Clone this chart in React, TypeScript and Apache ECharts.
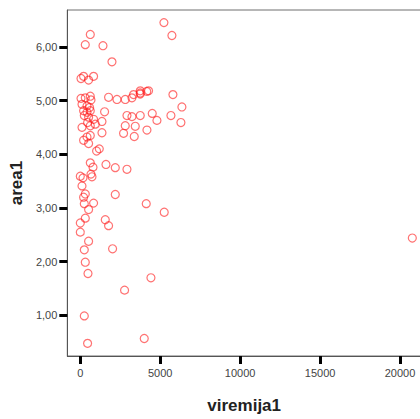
import React, { useEffect, useRef } from "react";
import * as echarts from "echarts";

const viremija1: number[] = [
  5231, 625, 5731, 312, 1419, 1981, 44, 206, 519, 831,
  44, 312, 625, 669, 106, 419, 581, 206, 419, 625,
  250, 519, 831, 456, 106, 625, 938, 1356, 1519, 1356,
  206, 419, 625, 519, 1019, 1188,
  1769, 2294, 2812, 3231, 3331, 3750, 3750, 3750, 4156, 4269,
  5794, 6356, 2919, 3231, 3750, 4500, 4794, 5669, 6294, 2812,
  3438, 2706, 3375, 4169,
  625, 794, 1606, 2188, 2919, 0, 169, 669, 731, 106,
  312, 206, 2188, 831, 250, 519, 4125, 5250, 0, 312,
  1562, 1769, 0, 519, 250, 2019, 312, 481, 4419, 2769,
  250, 4000, 456, 20769,
];

const area1: number[] = [
  6.45, 6.23, 6.21, 6.04, 6.02, 5.72, 5.41, 5.45, 5.38, 5.45,
  5.04, 5.05, 5.08, 5.01, 4.93, 4.9, 4.87, 4.81, 4.78, 4.81,
  4.72, 4.69, 4.65, 4.59, 4.5, 4.53, 4.56, 4.61, 4.79, 4.4,
  4.26, 4.32, 4.35, 4.2, 4.06, 4.1,
  5.06, 5.02, 5.02, 5.05, 5.11, 5.14, 5.18, 5.12, 5.17, 5.18,
  5.11, 4.88, 4.72, 4.7, 4.72, 4.76, 4.63, 4.72, 4.59, 4.53,
  4.52, 4.39, 4.33, 4.45,
  3.84, 3.76, 3.81, 3.75, 3.72, 3.59, 3.56, 3.63, 3.58, 3.41,
  3.26, 3.2, 3.25, 3.09, 3.08, 2.97, 3.08, 2.92, 2.72, 2.81,
  2.78, 2.67, 2.55, 2.38, 2.22, 2.24, 1.99, 1.78, 1.7, 1.47,
  0.99, 0.57, 0.48, 2.44,
];

const xTicks: number[] = [0, 5000, 10000, 15000, 20000];
const yTicks: number[] = [1, 2, 3, 4, 5, 6];

export default function App() {
  const ref = useRef<HTMLDivElement>(null);
  useEffect(() => {
    if (!ref.current) return;
    const chart = echarts.init(ref.current, undefined, { renderer: "svg" });
    const data = viremija1.map((x, i) => [x, area1[i]]);
    chart.setOption({
      animation: false,
      backgroundColor: "#ffffff",
      grid: {
        left: 67,
        top: 10,
        width: 354,
        height: 354,
        show: true,
        borderColor: "#6e6e6e",
        borderWidth: 1,
        backgroundColor: "transparent",
      },
      xAxis: {
        type: "value",
        min: -812.5,
        max: 21312,
        name: "viremija1",
        nameLocation: "middle",
        nameGap: 41,
        nameTextStyle: {
          fontFamily: "Liberation Sans, Arial, sans-serif",
          fontWeight: "bold",
          fontSize: 17,
          color: "#222",
        },
        splitLine: { show: false },
        axisLine: { show: true, onZero: false, lineStyle: { color: "#555", width: 1 } },
        axisTick: {
          show: true,
          customValues: xTicks,
          length: 8,
          lineStyle: { color: "#000", width: 3 },
        },
        axisLabel: {
          customValues: xTicks,
          formatter: (v: number) => String(v),
          fontFamily: "Liberation Sans, Arial, sans-serif",
          fontSize: 11,
          color: "#444",
          margin: 11,
        },
      },
      yAxis: {
        type: "value",
        min: 0.244,
        max: 6.685,
        name: "area1",
        nameLocation: "middle",
        nameGap: 40,
        nameRotate: 90,
        nameTextStyle: {
          fontFamily: "Liberation Sans, Arial, sans-serif",
          fontWeight: "bold",
          fontSize: 17,
          color: "#222",
        },
        splitLine: { show: false },
        axisLine: { show: true, onZero: false, lineStyle: { color: "#555", width: 1 } },
        axisTick: {
          show: true,
          customValues: yTicks,
          length: 8,
          lineStyle: { color: "#000", width: 3 },
        },
        axisLabel: {
          customValues: yTicks,
          formatter: (v: number) => v.toFixed(2).replace(".", ","),
          fontFamily: "Liberation Sans, Arial, sans-serif",
          fontSize: 11,
          color: "#444",
          margin: 10,
        },
      },
      series: [
        {
          type: "scatter",
          data,
          symbol: "circle",
          symbolSize: 8,
          itemStyle: {
            color: "rgba(255,255,255,0)",
            borderColor: "rgba(255,20,20,0.75)",
            borderWidth: 1.2,
          },
        },
      ],
    });
    return () => chart.dispose();
  }, []);
  return (
    <div
      ref={ref}
      style={{ position: "fixed", left: 0, top: 0, width: 430, height: 419, background: "#fff" }}
    />
  );
}
